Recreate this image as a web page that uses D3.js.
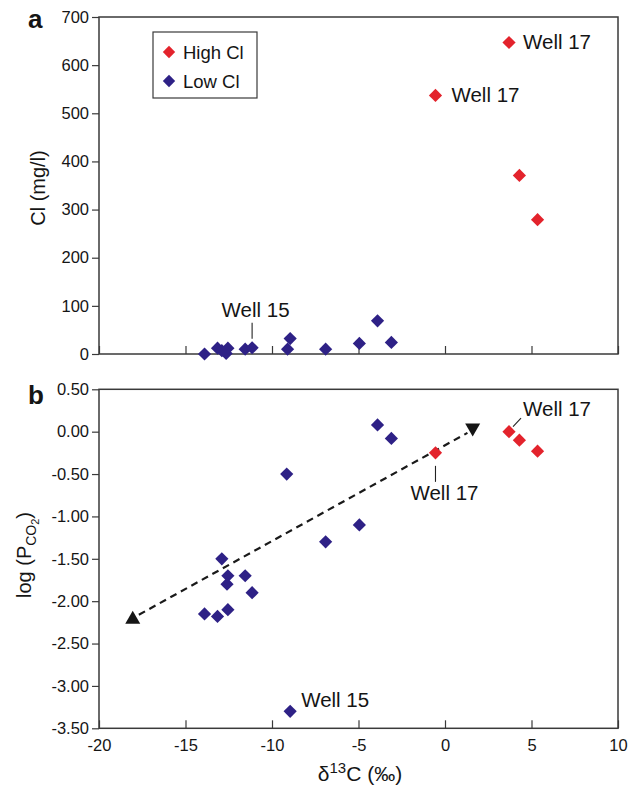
<!DOCTYPE html>
<html>
<head>
<meta charset="utf-8">
<script src="https://cdn.jsdelivr.net/npm/d3@7"></script>
<style>
  body { margin: 0; background: #fff; }
  text { font-family: "Liberation Sans", Arial, Helvetica, sans-serif; fill: #151515; }
</style>
</head>
<body>
<svg id="chart" width="634" height="788"></svg>
<script>
// ---- data ----
const xTicks = [-20, -15, -10, -5, 0, 5, 10];
const clTicks = [0, 100, 200, 300, 400, 500, 600, 700];
const pco2Ticks = [0.5, 0, -0.5, -1, -1.5, -2, -2.5, -3, -3.5];

// panel a: Cl vs d13C
const lowClD13C = [-13.9, -13.15, -12.9, -12.65, -12.55, -11.55, -11.15, -9.1, -8.95, -6.9, -4.95, -3.9, -3.1];
const lowClCl   = [0, 12, 7, 1, 12, 10, 13, 10, 32, 10, 22, 69, 24];
const highClD13C = [-0.55, 3.7, 4.3, 5.35];
const highClCl   = [537, 647, 371, 279];

// panel b: log(PCO2) vs d13C
const lowPD13C = [-13.9, -13.15, -12.9, -12.55, -12.6, -12.55, -11.55, -11.15, -9.15, -8.95, -6.9, -4.95, -3.9, -3.1];
const lowPLog  = [-2.15, -2.18, -1.5, -1.7, -1.8, -2.1, -1.7, -1.9, -0.5, -3.3, -1.3, -1.1, 0.08, -0.08];
const highPD13C = [-0.55, 3.7, 4.3, 5.35];
const highPLog  = [-0.25, 0.0, -0.1, -0.23];

// trend arrow in panel b (start, end)
const trendD13C = [-18.05, 1.6];
const trendLog  = [-2.2, 0.02];

const RED = "#e3232c";
const BLUE = "#2e2186";
const AXIS = "#3a3a3a";

const svg = d3.select("#chart");

const x = d3.scaleLinear().domain([-20, 10]).range([99, 618]);
const yA = d3.scaleLinear().domain([0, 700]).range([354, 17]);
const yB = d3.scaleLinear().domain([-3.5, 0.5]).range([728.3, 389.3]);

const diamond = r => `M0,${-r}L${r},0L0,${r}L${-r},0Z`;
// plain hyphen for negative numbers
const hyphen = f => v => f(v).replace("\u2212", "-");

function drawFrame(y, yTicks, yFmt, showXLabels) {
  const g = svg.append("g");
  const [y0, y1] = y.range();
  // left axis
  const ya = g.append("g")
    .attr("transform", `translate(${x.range()[0]},0)`)
    .call(d3.axisLeft(y).tickValues(yTicks).tickFormat(hyphen(yFmt)).tickSize(7).tickSizeOuter(0).tickPadding(3));
  ya.select(".domain").remove();
  ya.selectAll(".tick line").attr("stroke", AXIS).attr("stroke-width", 1.2);
  ya.selectAll(".tick text").attr("font-size", 16.5).attr("fill", "#151515")
    .style("font-family", '"Liberation Sans", Arial, sans-serif');
  // bottom axis with inward ticks
  const xa = g.append("g")
    .attr("transform", `translate(0,${y0})`)
    .call(d3.axisBottom(x).tickValues(xTicks).tickSize(-8).tickSizeOuter(0).tickPadding(11)
      .tickFormat(showXLabels ? hyphen(d3.format("d")) : ""));
  xa.select(".domain").remove();
  xa.selectAll(".tick line").attr("stroke", AXIS).attr("stroke-width", 1.2);
  xa.selectAll(".tick text").attr("font-size", 16.5).attr("fill", "#151515")
    .attr("dy", "0.71em")
    .style("font-family", '"Liberation Sans", Arial, sans-serif');
  // plot frame
  g.append("rect")
    .attr("x", x.range()[0]).attr("y", y1)
    .attr("width", x.range()[1] - x.range()[0]).attr("height", y0 - y1)
    .attr("fill", "none").attr("stroke", AXIS).attr("stroke-width", 1.5);
}

function drawPoints(y, xs, ys, color) {
  svg.append("g").selectAll("path")
    .data(xs.map((v, i) => [v, ys[i]]))
    .join("path")
    .attr("d", diamond(6.6))
    .attr("transform", d => `translate(${x(d[0])},${y(d[1])})`)
    .attr("fill", color);
}

// ---- panel a ----
drawFrame(yA, clTicks, d3.format("d"), false);
drawPoints(yA, lowClD13C, lowClCl, BLUE);
drawPoints(yA, highClD13C, highClCl, RED);

svg.append("text").attr("x", 28).attr("y", 27.5)
  .attr("font-size", 26).attr("font-weight", "bold").text("a");

svg.append("text")
  .attr("transform", `translate(45,188) rotate(-90)`)
  .attr("text-anchor", "middle").attr("font-size", 20).text("Cl (mg/l)");

// legend
const leg = svg.append("g");
leg.append("rect").attr("x", 153).attr("y", 32).attr("width", 104).attr("height", 66)
  .attr("fill", "#fff").attr("stroke", AXIS).attr("stroke-width", 1.2);
[["High Cl", RED, 52], ["Low Cl", BLUE, 81]].forEach(([label, c, yy]) => {
  leg.append("path").attr("d", diamond(6.2)).attr("transform", `translate(169,${yy})`).attr("fill", c);
  leg.append("text").attr("x", 183).attr("y", yy + 7).attr("font-size", 18.5).text(label);
});

// annotations, panel a
svg.append("text").attr("x", x(3.7) + 14).attr("y", yA(647) + 6.5)
  .attr("font-size", 20.5).text("Well 17");
svg.append("text").attr("x", x(-0.55) + 16).attr("y", yA(537) + 6.5)
  .attr("font-size", 20.5).text("Well 17");
svg.append("line")
  .attr("x1", x(-11.15)).attr("x2", x(-11.15))
  .attr("y1", yA(13) - 9).attr("y2", yA(13) - 25)
  .attr("stroke", "#222").attr("stroke-width", 1.1);
svg.append("text").attr("x", x(-11.15) + 3.5).attr("y", yA(13) - 31)
  .attr("text-anchor", "middle").attr("font-size", 20.5).text("Well 15");

// ---- panel b ----
drawFrame(yB, pco2Ticks, d3.format(".2f"), true);

// trend arrow: dashed segment with triangle markers at both ends
const t0 = [x(trendD13C[0]), yB(trendLog[0])];
const t1 = [x(trendD13C[1]), yB(trendLog[1])];
const len = Math.hypot(t1[0] - t0[0], t1[1] - t0[1]);
const ux = (t1[0] - t0[0]) / len, uy = (t1[1] - t0[1]) / len;
svg.append("line")
  .attr("x1", t0[0] + ux * 7).attr("y1", t0[1] + uy * 7)
  .attr("x2", t1[0] - ux * 6).attr("y2", t1[1] - uy * 6)
  .attr("stroke", "#1a1a1a").attr("stroke-width", 2.2).attr("stroke-dasharray", "7,5");
svg.append("path")
  .attr("d", "M0,-7.5L7.5,5.5L-7.5,5.5Z")
  .attr("transform", `translate(${t0[0]},${t0[1]})`).attr("fill", "#151515");
svg.append("path")
  .attr("d", "M0,6.5L7.5,-6.5L-7.5,-6.5Z")
  .attr("transform", `translate(${t1[0]},${t1[1]})`).attr("fill", "#151515");

drawPoints(yB, lowPD13C, lowPLog, BLUE);
drawPoints(yB, highPD13C, highPLog, RED);

svg.append("text").attr("x", 28).attr("y", 403.5)
  .attr("font-size", 26).attr("font-weight", "bold").text("b");

const ylabB = svg.append("text")
  .attr("transform", `translate(31,555) rotate(-90)`)
  .attr("text-anchor", "middle").attr("font-size", 20);
ylabB.append("tspan").text("log (P");
ylabB.append("tspan").attr("font-size", 14).attr("dy", 5).text("CO");
ylabB.append("tspan").attr("font-size", 11).attr("dy", 3).text("2");
ylabB.append("tspan").attr("dy", -8).text(")");

const xlab = svg.append("text")
  .attr("x", 360).attr("y", 781).attr("text-anchor", "middle").attr("font-size", 21);
xlab.append("tspan").text("\u03B4");
xlab.append("tspan").attr("font-size", 15).attr("dy", -8).text("13");
xlab.append("tspan").attr("dy", 8).text("C (\u2030)");

// annotations, panel b
svg.append("line")
  .attr("x1", x(3.7) + 4).attr("y1", yB(0) - 5)
  .attr("x2", x(3.7) + 12).attr("y2", yB(0) - 13.5)
  .attr("stroke", "#222").attr("stroke-width", 1.1);
svg.append("text").attr("x", x(3.7) + 14).attr("y", yB(0) - 15.5)
  .attr("font-size", 20.5).text("Well 17");
svg.append("line")
  .attr("x1", x(-0.55)).attr("x2", x(-0.55))
  .attr("y1", yB(-0.25) + 13).attr("y2", yB(-0.25) + 29)
  .attr("stroke", "#222").attr("stroke-width", 1.1);
svg.append("text").attr("x", x(-0.55) + 9).attr("y", yB(-0.25) + 47)
  .attr("text-anchor", "middle").attr("font-size", 20.5).text("Well 17");
svg.append("text").attr("x", x(-8.95) + 11).attr("y", yB(-3.3) - 4)
  .attr("font-size", 20.5).text("Well 15");
</script>
</body>
</html>
